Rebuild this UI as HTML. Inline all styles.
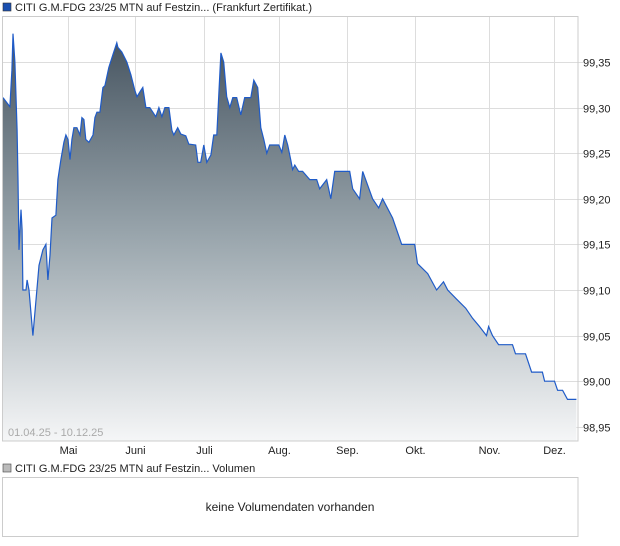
<!DOCTYPE html>
<html><head><meta charset="utf-8"><style>
html,body{margin:0;padding:0;background:#fff;width:620px;height:546px;overflow:hidden}
svg{display:block;font-family:"Liberation Sans",Arial,sans-serif}
</style></head><body>
<svg id="chart" width="620" height="546">
<defs>
<linearGradient id="areaGrad" x1="0" y1="0" x2="0" y2="1">
<stop offset="0" stop-color="#45535f"/>
<stop offset="0.5" stop-color="#9aa6ad"/>
<stop offset="1" stop-color="#f5f6f7"/>
</linearGradient>
</defs>
<rect x="3" y="3" width="8" height="8" fill="#1a4fb0" stroke="#333" stroke-width="0.6"/>
<text x="15" y="11" font-size="11" fill="#222">CITI G.M.FDG 23/25 MTN auf Festzin... (Frankfurt Zertifikat.)</text>
<g id="grid"></g>
<path id="area" fill="url(#areaGrad)"></path>
<path id="line" fill="none" stroke="#1f5bc8" stroke-width="1.2"></path>
<rect x="2.5" y="16.5" width="575.5" height="424.5" fill="none" stroke="#cccccc"/>
<text x="8" y="436" font-size="11" fill="#aaaaaa">01.04.25 - 10.12.25</text>
<g id="yaxis"></g>
<g id="xaxis"></g>
<rect x="3" y="464" width="8" height="8" fill="#bbbbbb" stroke="#444" stroke-width="0.6"/>
<text x="15" y="472" font-size="11" fill="#222">CITI G.M.FDG 23/25 MTN auf Festzin... Volumen</text>
<rect x="2.5" y="477.5" width="575.5" height="59" fill="#fff" stroke="#cccccc"/>
<text x="290" y="511" font-size="12" fill="#222" text-anchor="middle">keine Volumendaten vorhanden</text>
</svg>
<script>
const days = [0,3.2,4.1,4.6,5.5,6.5,6.9,7.4,8.3,8.8,9.2,10.6,11.1,12.0,13.8,15.2,16.6,18.4,19.8,20.7,21.7,22.6,24.4,25.3,26.7,28.1,29.0,30.0,30.9,31.8,32.7,34.1,35.5,36.4,37.3,38.2,39.6,41.5,42.4,43.3,44.7,46.1,47.0,48.8,50.7,52.5,53.0,54.8,57.1,59.0,60.8,61.8,63.6,64.5,65.9,67.7,70.5,71.9,73.3,74.7,76.5,77.9,78.8,80.6,82.0,84.3,85.7,88.9,89.9,91.2,92.6,94.0,95.9,97.2,98.6,99.5,100.5,101.8,103.2,104.6,106.0,107.8,109.7,111.5,114.3,115.7,117.5,118.9,120.3,121.7,123.0,127.2,128.6,130.0,131.3,132.7,133.6,134.6,136.4,138.2,141.5,144.7,146.1,149.3,151.2,153.0,159.9,161.3,164.5,165.9,170.5,173.3,175.1,179.7,183.9,189.9,191.2,195.9,200.0,203.2,205.1,209.2,213.4,216.6,219.8,223.0,224.0,225.8,228.6,235.0,236.4,241.0,243.8,248.8,249.8,254.4,255.8,258.1,260.4,264.5];
const prices = [99.311,99.301,99.341,99.381,99.350,99.275,99.221,99.144,99.188,99.166,99.100,99.100,99.111,99.100,99.050,99.089,99.127,99.144,99.150,99.111,99.138,99.179,99.182,99.221,99.243,99.262,99.270,99.265,99.243,99.265,99.278,99.278,99.270,99.289,99.287,99.265,99.262,99.270,99.289,99.295,99.295,99.322,99.324,99.344,99.358,99.371,99.366,99.361,99.350,99.336,99.319,99.312,99.319,99.322,99.300,99.300,99.290,99.300,99.290,99.300,99.300,99.275,99.270,99.278,99.271,99.269,99.260,99.259,99.240,99.240,99.259,99.240,99.248,99.270,99.270,99.312,99.360,99.350,99.312,99.300,99.311,99.311,99.292,99.311,99.311,99.330,99.322,99.278,99.265,99.250,99.259,99.259,99.251,99.270,99.259,99.243,99.232,99.237,99.230,99.230,99.221,99.221,99.211,99.221,99.200,99.230,99.230,99.211,99.200,99.230,99.200,99.190,99.200,99.179,99.150,99.150,99.129,99.118,99.100,99.109,99.100,99.090,99.080,99.069,99.060,99.050,99.060,99.050,99.040,99.040,99.030,99.030,99.010,99.010,99.000,99.000,98.990,98.990,98.980,98.980];
const yTicks = [98.95,99.00,99.05,99.10,99.15,99.20,99.25,99.30,99.35];
const yTickLabels = ["98,95","99,00","99,05","99,10","99,15","99,20","99,25","99,30","99,35"];
const monthDays = [30,61,92.7,127.3,158.7,190,224.2,254.2];
const monthLabels = ["Mai","Juni","Juli","Aug.","Sep.","Okt.","Nov.","Dez."];

const NS="http://www.w3.org/2000/svg";
const xS = d => 3 + d*2.168;
const yS = v => 62 + (99.35 - v)/0.05*45.6;
const bottom = 441;

let line = "";
days.forEach((d,i)=>{ line += (i?"L":"M") + xS(d).toFixed(1) + "," + yS(prices[i]).toFixed(1); });
document.getElementById("line").setAttribute("d", line);
document.getElementById("area").setAttribute("d", line + "L" + xS(days[days.length-1]).toFixed(1) + "," + bottom + "L" + xS(days[0]).toFixed(1) + "," + bottom + "Z");

const grid = document.getElementById("grid");
const ya = document.getElementById("yaxis");
yTicks.forEach((t,i)=>{
  const y = Math.round(yS(t))+0.5;
  const l = document.createElementNS(NS,"line");
  l.setAttribute("x1",3); l.setAttribute("x2",583); l.setAttribute("y1",y); l.setAttribute("y2",y);
  l.setAttribute("stroke","#dddddd");
  
  
  grid.appendChild(l);
  const tx = document.createElementNS(NS,"text");
  tx.setAttribute("x",583); tx.setAttribute("y",y+4); tx.setAttribute("font-size","11"); tx.setAttribute("fill","#222");
  tx.textContent = yTickLabels[i];
  
  
  ya.appendChild(tx);
});
const xa = document.getElementById("xaxis");
monthDays.forEach((d,i)=>{
  const x = Math.round(xS(d))+0.5;
  const l = document.createElementNS(NS,"line");
  l.setAttribute("x1",x); l.setAttribute("x2",x); l.setAttribute("y1",16); l.setAttribute("y2",441);
  l.setAttribute("stroke","#dddddd");
  
  
  grid.appendChild(l);
  const tx = document.createElementNS(NS,"text");
  tx.setAttribute("x",x); tx.setAttribute("y",454); tx.setAttribute("font-size","11"); tx.setAttribute("fill","#222");
  tx.setAttribute("text-anchor","middle");
  tx.textContent = monthLabels[i];
  
  
  xa.appendChild(tx);
});
</script>
</body></html>
